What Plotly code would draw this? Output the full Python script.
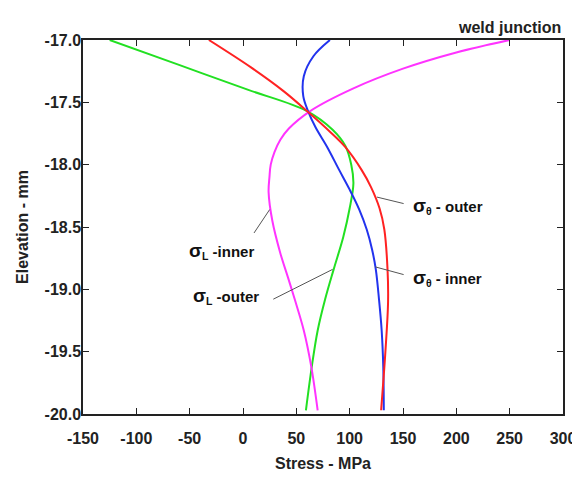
import plotly.graph_objects as go

# Elevation (mm) and stress (MPa)
green_y = [-17.0, -17.2, -17.4, -17.57, -17.72, -17.85, -18.0, -18.15, -18.35, -18.58, -18.84, -19.08, -19.33, -19.62, -19.97]
green_x = [-125, -60, 5, 60, 84, 96, 101.5, 103.5, 100, 94, 85, 77, 70, 64.5, 59]

red_y = [-17.0, -17.22, -17.41, -17.57, -17.74, -17.86, -18.04, -18.18, -18.35, -18.52, -18.84, -19.1, -19.5, -19.97]
red_x = [-32, 7.5, 38, 60, 82, 96, 111, 120, 128, 132.5, 135.5, 136, 133.5, 129.5]

blue_y = [-17.0, -17.13, -17.29, -17.45, -17.57, -17.7, -17.86, -18.04, -18.2, -18.36, -18.52, -18.68, -18.84, -19.08, -19.33, -19.62, -19.97]
blue_x = [81.5, 66, 57, 56.5, 61, 68, 79, 90, 100, 109, 116, 121, 124.5, 127.5, 130, 131.5, 132]

mag_y = [-17.0, -17.1, -17.23, -17.39, -17.57, -17.71, -17.8, -17.9, -18.0, -18.1, -18.22, -18.45, -18.71, -18.9, -19.08, -19.33, -19.62, -19.97]
mag_x = [250, 200, 150, 103, 63, 43, 35, 29.5, 26, 24.8, 24, 27.5, 35, 42, 48.5, 57, 64, 70]

x_ticks = [-150, -100, -50, 0, 50, 100, 150, 200, 250, 300]
y_ticks = [-17.0, -17.5, -18.0, -18.5, -19.0, -19.5, -20.0]

SIG = "<span style='font-size:19px'>σ</span>"
labels = [SIG + "<sub>θ</sub> - outer", SIG + "<sub>θ</sub> - inner", SIG + "<sub>L</sub> -inner", SIG + "<sub>L</sub> -outer"]
label_heads = [(125.6, -18.26), (124, -18.82), (25, -18.36), (84, -18.84)]
label_tails = [(152, -18.315), (152, -18.885), (9.4, -18.56), (27, -19.085)]
label_pos = [(192, -18.33), (192, -18.91), (-20, -18.69), (-16, -19.05)]

FONT = "Liberation Sans, Arial, sans-serif"

fig = go.Figure()
for xs, ys, col in [(green_x, green_y, "#22e022"), (mag_x, mag_y, "#ff33ff"),
                    (blue_x, blue_y, "#2233ee"), (red_x, red_y, "#ff2222")]:
    fig.add_trace(go.Scatter(x=xs, y=ys, mode="lines", line=dict(color=col, width=2, shape="spline", smoothing=1.0),
                             showlegend=False))

for txt, (hx, hy), (tx, ty), (lx, ly) in zip(labels, label_heads, label_tails, label_pos):
    fig.add_annotation(x=hx, y=hy, ax=tx, ay=ty, axref="x", ayref="y", xref="x", yref="y",
                       text="", showarrow=True, arrowhead=0, arrowwidth=1, arrowcolor="#555555",
                       standoff=0, startstandoff=0)
    fig.add_annotation(x=lx, y=ly, xref="x", yref="y", text=txt, showarrow=False,
                       font=dict(family=FONT, size=15, color="#111111", weight="bold"))

fig.add_annotation(x=1.0, y=1.0, xref="paper", yref="paper", xanchor="right", yanchor="bottom",
                   text="<b>weld junction</b>", showarrow=False, yshift=2,
                   font=dict(family=FONT, size=16, color="#222222"))

axis_common = dict(showline=True, linecolor="#222222", linewidth=1.5, mirror="ticks", ticks="inside",
                   ticklen=6, tickcolor="#222222", showgrid=False, zeroline=False, automargin=False,
                   tickfont=dict(family=FONT, size=16, color="#222222", weight="bold"))

fig.update_xaxes(range=[-150, 300], tickvals=x_ticks, ticktext=[str(v) for v in x_ticks], ticklabelstandoff=9,
                 title=dict(text="Stress - MPa", font=dict(family=FONT, size=16, color="#222222", weight="bold"), standoff=12),
                 **axis_common)
fig.update_yaxes(range=[-20, -17], tickvals=y_ticks, ticktext=[f"{v:.1f}" for v in y_ticks], ticklabelstandoff=-3,
                 title=dict(text="Elevation - mm", font=dict(family=FONT, size=16, color="#222222", weight="bold"), standoff=12),
                 **axis_common)

fig.update_layout(width=572, height=474, margin=dict(l=75, r=17, t=32, b=68),
                  plot_bgcolor="white", paper_bgcolor="white")

fig.write_html("out.html")
